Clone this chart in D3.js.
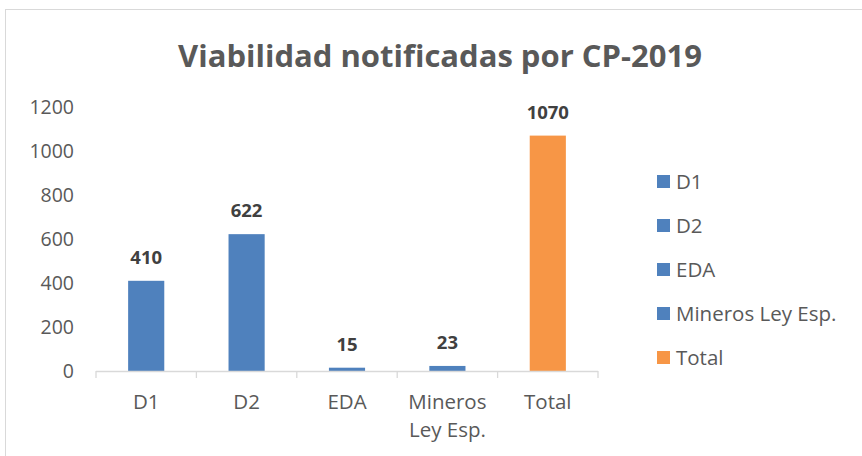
<html>
<head>
<style>
  body { margin: 0; background: #fff; }
  svg text { font-family: "Open Sans", sans-serif; }
</style>
</head>
<body>
<div id="chart"></div>
<script src="https://d3js.org/d3.v7.min.js"></script>
<script>
var categories = ["D1", "D2", "EDA", "Mineros Ley Esp.", "Total"];
var xLabels = [["D1"], ["D2"], ["EDA"], ["Mineros", "Ley Esp."], ["Total"]];
var values = [410, 622, 15, 23, 1070];
var colors = ["#4F81BD", "#4F81BD", "#4F81BD", "#4F81BD", "#F79646"];
var yTicks = [0, 200, 400, 600, 800, 1000, 1200];

var W = 862, H = 456;
var svg = d3.select("#chart").append("svg")
  .attr("width", W).attr("height", H);

// chart border
svg.append("rect")
  .attr("x", 5.5).attr("y", 9.5)
  .attr("width", W + 10).attr("height", H + 10)
  .attr("fill", "#fff").attr("stroke", "#d9d9d9");

svg.append("text")
  .attr("x", 440).attr("y", 67)
  .attr("text-anchor", "middle")
  .style("font-size", "31px").style("font-weight", "bold")
  .attr("fill", "#595959")
  .text("Viabilidad notificadas por CP-2019");

var x = d3.scaleBand().domain(categories).range([96, 598]).paddingInner(0.64).paddingOuter(0.32);
var y = d3.scaleLinear().domain([0, 1200]).range([371, 107]);

// y labels
svg.selectAll(".ylab").data(yTicks).enter().append("text")
  .attr("x", 74).attr("y", function(d) { return y(d) + 7; })
  .attr("text-anchor", "end")
  .style("font-size", "19.5px").attr("fill", "#595959")
  .text(function(d) { return d; });

// bars
svg.selectAll(".bar").data(values).enter().append("rect")
  .attr("x", function(d, i) { return x(categories[i]); })
  .attr("width", x.bandwidth())
  .attr("y", function(d) { return y(d); })
  .attr("height", function(d) { return y(0) - y(d); })
  .attr("fill", function(d, i) { return colors[i]; });

// value labels
svg.selectAll(".val").data(values).enter().append("text")
  .attr("x", function(d, i) { return x(categories[i]) + x.bandwidth() / 2; })
  .attr("y", function(d) { return y(d) - 17; })
  .attr("text-anchor", "middle")
  .style("font-size", "18.5px").style("font-weight", "bold")
  .attr("fill", "#404040")
  .text(function(d) { return d; });

// x axis line and ticks
var step = x.step();
svg.append("line")
  .attr("x1", 96).attr("x2", 598).attr("y1", 371.5).attr("y2", 371.5)
  .attr("stroke", "#d9d9d9").attr("stroke-width", 1.3);
var tickX = d3.range(categories.length + 1).map(function(i) { return 96 + i * step; });
svg.selectAll(".tick").data(tickX).enter().append("line")
  .attr("x1", function(d) { return d; }).attr("x2", function(d) { return d; })
  .attr("y1", 371).attr("y2", 378)
  .attr("stroke", "#d9d9d9").attr("stroke-width", 1.3);

// x labels
xLabels.forEach(function(lines, i) {
  var cx = x(categories[i]) + x.bandwidth() / 2;
  var t = svg.append("text")
    .attr("x", cx).attr("y", 409)
    .attr("text-anchor", "middle")
    .style("font-size", "20.5px").attr("fill", "#595959");
  lines.forEach(function(l, j) {
    t.append("tspan").attr("x", cx).attr("dy", j === 0 ? 0 : 28).text(l);
  });
});

// legend
var leg = svg.selectAll(".leg").data(categories).enter().append("g")
  .attr("transform", function(d, i) { return "translate(657," + (182 + i * 44) + ")"; });
leg.append("rect")
  .attr("x", 0).attr("y", -7).attr("width", 13).attr("height", 13)
  .attr("fill", function(d, i) { return colors[i]; });
leg.append("text")
  .attr("x", 19).attr("y", 7)
  .style("font-size", "20.5px").attr("fill", "#595959")
  .text(function(d) { return d; });
</script>
</body>
</html>
